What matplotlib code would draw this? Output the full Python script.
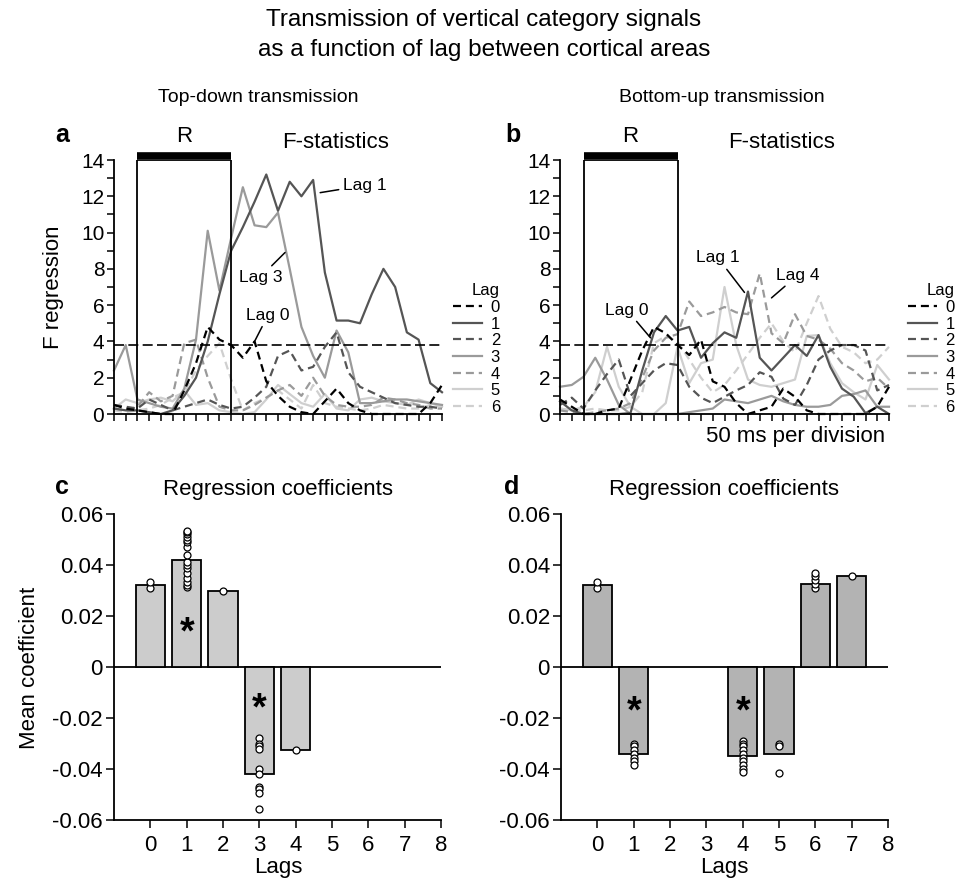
import numpy as np
import matplotlib
matplotlib.use('Agg')
import matplotlib.pyplot as plt

plt.rcParams['font.family'] = ['Liberation Sans', 'DejaVu Sans']

# ---- F-statistics time courses (one value per 50 ms division) ----
divisions = np.arange(29)
lag_labels = ['0', '1', '2', '3', '4', '5', '6']

td_lag0 = [0.5, 0.3, 0.2, 0.1, 0.0, 0.0, 1.3, 2.8, 4.8, 4.1, 3.8, 3.1, 4.0, 1.8, 1.0, 0.4, 0.1, 0.0, 0.7, 1.4, 0.6, 0.2, 0.0, 0.0, 0.0, 0.0, 0.0, 0.6, 1.6]
td_lag1 = [0.3, 0.2, 0.2, 0.1, 0.0, 0.2, 1.0, 2.0, 4.0, 6.6, 9.0, 10.3, 11.7, 13.2, 11.2, 12.8, 12.0, 12.9, 7.8, 5.15, 5.15, 5.0, 6.6, 8.0, 7.0, 4.5, 4.1, 1.7, 1.2]
td_lag2 = [0.5, 0.4, 0.3, 0.8, 0.5, 0.2, 0.4, 0.6, 0.8, 0.5, 0.3, 0.4, 0.9, 1.5, 3.2, 3.5, 2.4, 2.6, 3.7, 4.5, 2.3, 1.5, 1.2, 0.9, 0.6, 0.5, 0.4, 0.4, 0.3]
td_lag3 = [2.4, 3.8, 0.8, 0.6, 0.4, 0.3, 1.4, 4.1, 10.1, 6.8, 9.7, 12.5, 10.4, 10.3, 11.1, 8.0, 4.8, 3.2, 2.0, 4.6, 3.4, 0.6, 0.6, 0.7, 0.8, 0.8, 0.7, 0.6, 0.5]
td_lag4 = [0.3, 0.2, 0.4, 1.2, 0.7, 1.0, 3.9, 4.1, 2.0, 0.4, 0.2, 0.2, 0.5, 0.9, 1.3, 1.6, 1.0, 2.0, 1.0, 0.5, 0.4, 0.4, 0.5, 0.9, 0.8, 0.6, 0.5, 0.3, 0.3]
td_lag5 = [0.3, 0.8, 0.6, 0.8, 0.9, 0.7, 1.3, 0.5, 0.6, 0.2, 0.1, 0.0, 0.1, 0.8, 1.6, 1.1, 0.6, 0.4, 1.1, 0.3, 0.2, 0.8, 0.9, 0.7, 0.6, 0.5, 0.8, 0.6, 0.4]
td_lag6 = [0.2, 0.1, 0.2, 0.3, 0.5, 0.9, 1.2, 2.4, 3.2, 3.9, 1.9, 0.2, 0.6, 0.9, 1.3, 0.8, 0.3, 1.6, 0.6, 0.4, 0.3, 0.2, 0.3, 0.5, 0.4, 0.3, 0.3, 0.5, 0.4]

bu_lag0 = [0.8, 0.4, 0.0, 0.0, 0.2, 0.3, 1.9, 3.5, 4.8, 4.45, 3.8, 3.25, 4.1, 1.8, 1.5, 0.6, 0.0, 0.2, 0.4, 1.4, 0.95, 0.2, 0.0, 0.0, 0.0, 0.0, 0.0, 0.4, 1.5]
bu_lag1 = [0.7, 0.2, 0.0, 0.0, 0.0, 0.0, 0.05, 2.4, 4.5, 5.4, 4.6, 4.8, 3.1, 3.9, 4.5, 4.2, 6.75, 3.1, 2.4, 3.1, 3.8, 3.2, 4.35, 2.6, 1.4, 0.95, 0.05, 0.4, 0.0]
bu_lag2 = [0.5, 0.9, 0.3, 1.3, 2.2, 3.0, 1.0, 1.7, 2.4, 2.8, 2.7, 1.5, 0.9, 0.6, 0.95, 1.3, 1.6, 2.3, 2.05, 0.85, 0.5, 1.6, 3.0, 3.5, 3.8, 3.8, 3.5, 1.3, 1.6]
bu_lag3 = [1.5, 1.6, 2.05, 3.1, 1.9, 0.5, 0.0, 0.0, 0.0, 0.0, 0.0, 0.1, 0.2, 0.3, 0.8, 0.7, 0.6, 0.8, 1.0, 0.7, 0.5, 0.4, 0.4, 0.5, 1.0, 1.1, 1.3, 0.4, 0.4]
bu_lag4 = [0.2, 0.1, 0.0, 0.1, 0.2, 0.3, 0.6, 2.0, 3.5, 4.2, 4.4, 6.2, 5.4, 5.6, 5.9, 5.6, 5.5, 7.75, 4.45, 3.9, 5.5, 4.3, 4.1, 3.6, 2.8, 2.4, 1.8, 2.0, 1.4]
bu_lag5 = [0.3, 0.2, 0.4, 1.2, 3.7, 1.5, 0.4, 0.0, 0.0, 0.6, 3.7, 1.7, 2.8, 3.0, 7.0, 3.8, 1.9, 1.6, 1.5, 1.7, 1.9, 4.3, 4.35, 2.8, 1.7, 1.2, 0.8, 2.7, 1.9]
bu_lag6 = [0.3, 0.2, 0.2, 0.3, 0.2, 0.2, 0.4, 1.2, 3.9, 4.3, 4.0, 3.0, 2.0, 1.2, 1.6, 2.4, 3.3, 4.2, 5.0, 4.0, 3.4, 5.0, 6.5, 4.7, 3.7, 3.4, 2.8, 3.0, 3.7]

f_threshold = 3.8
r_window = [2, 10]

# ---- regression coefficients ----
bar_lags = np.arange(9)
td_lags = [0, 1, 2, 3, 4]
td_coef = [0.032, 0.042, 0.030, -0.042, -0.0325]
td_points = [
    [0.031, 0.0335],
    [0.0315, 0.032, 0.0335, 0.035, 0.037, 0.039, 0.040, 0.041, 0.044, 0.047, 0.049, 0.050, 0.051, 0.052, 0.053, 0.0535],
    [0.030],
    [-0.028, -0.030, -0.031, -0.032, -0.040, -0.042, -0.047, -0.048, -0.0495, -0.0555],
    [-0.0325],
]
td_signif = [1, 3]
td_star_y = [0.0133, -0.0167]

bu_lags = [0, 1, 4, 5, 6, 7]
bu_coef = [0.032, -0.034, -0.035, -0.034, 0.0325, 0.0355]
bu_points = [
    [0.031, 0.0335],
    [-0.030, -0.031, -0.0325, -0.034, -0.0355, -0.037, -0.0385],
    [-0.029, -0.030, -0.031, -0.0325, -0.034, -0.0355, -0.037, -0.0385, -0.040, -0.041],
    [-0.030, -0.031, -0.0415],
    [0.031, 0.0325, 0.034, 0.0355, 0.037],
    [0.0355],
]
bu_signif = [1, 4]
bu_star_y = [-0.0177, -0.0177]

coef_ticks = [-0.06, -0.04, -0.02, 0, 0.02, 0.04, 0.06]
coef_ticklabels = ['-0.06', '-0.04', '-0.02', '0', '0.02', '0.04', '0.06']

W, H = 968, 882
fig = plt.figure(figsize=(W / 100, H / 100), dpi=100)


def px(x, y):
    return x / W, 1 - y / H


def axes_px(left, top, right, bottom):
    return fig.add_axes([left / W, 1 - bottom / H, (right - left) / W, (bottom - top) / H])


# colour and dash of each lag
lag_colors = ['black', '#555555', '#555555', '#9a9a9a', '#9a9a9a', '#cfcfcf', '#cfcfcf']
lag_dashed = [True, False, True, False, True, False, True]


def draw_fstats(ax, series, legend_x, notes):
    handles = []
    # lightest first so the dark ones stay on top
    for k in range(6, -1, -1):
        ln, = ax.plot(divisions, series[k], color=lag_colors[k], lw=1.6, clip_on=False)
        if lag_dashed[k]:
            ln.set_dashes((3.6, 2.2))
        handles.insert(0, ln)
    ax.axhline(f_threshold, color='black', lw=1.2, dashes=(6, 2.6))
    ax.plot([r_window[0], r_window[0], r_window[1], r_window[1]], [0, 14, 14, 0],
            color='black', lw=1.3, solid_joinstyle='miter')
    ax.plot(r_window, [14.2, 14.2], color='black', lw=5.5, solid_capstyle='butt', clip_on=False)
    ax.set_xlim(0, 28)
    ax.set_ylim(0, 14)
    ax.set_xticks(divisions)
    ax.set_xticklabels([])
    ax.set_yticks(np.arange(15))
    ax.set_yticklabels([str(v) if v % 2 == 0 else '' for v in range(15)], fontsize=15)
    ax.tick_params(axis='both', length=5, width=1.1, pad=2)
    for s in ['top', 'right']:
        ax.spines[s].set_visible(False)
    for s in ['left', 'bottom']:
        ax.spines[s].set_linewidth(1.3)
    for txt, xy, xytext in notes:
        ax.annotate(txt, xy=xy, xytext=xytext, fontsize=12.5, ha='center', va='center',
                    arrowprops=dict(arrowstyle='-', lw=1.1, color='black', shrinkA=1, shrinkB=0))
    ax.legend(handles, lag_labels, title='Lag', loc='upper left', bbox_to_anchor=(legend_x, 0.515),
              frameon=False, fontsize=12, title_fontsize=12, handlelength=1.75, handletextpad=0.5,
              labelspacing=0.1, borderpad=0, borderaxespad=0, alignment='right')


def draw_coefs(ax, lags, coef, points, signif, star_y, color):
    ax.bar(lags, coef, width=0.8, color=color, edgecolor='black', linewidth=1.3, zorder=2)
    for lag, pts in zip(lags, points):
        ax.plot([lag] * len(pts), pts, 'o', ms=5, mfc='white', mec='black', mew=0.9, zorder=3, clip_on=False)
    for lag, y in zip(signif, star_y):
        ax.text(lag, y, '*', fontsize=27, fontweight='bold', ha='center', va='center', zorder=4)
    ax.axhline(0, color='black', lw=1.3, zorder=1)
    ax.set_xlim(-1, 8)
    ax.set_ylim(-0.06, 0.06)
    ax.set_xticks(bar_lags)
    ax.set_xticklabels([str(v) for v in bar_lags], fontsize=16)
    ax.set_yticks(coef_ticks)
    ax.set_yticklabels(coef_ticklabels, fontsize=16)
    ax.tick_params(axis='both', length=6, width=1.1, pad=2)
    ax.tick_params(axis='x', pad=5)
    for s in ['top', 'right']:
        ax.spines[s].set_visible(False)
    for s in ['left', 'bottom']:
        ax.spines[s].set_linewidth(1.3)


ax_a = axes_px(114, 160, 442, 414)
ax_b = axes_px(560, 160, 889, 414)
ax_c = axes_px(114, 514, 441, 820)
ax_d = axes_px(561, 514, 888, 820)

draw_fstats(ax_a, [td_lag0, td_lag1, td_lag2, td_lag3, td_lag4, td_lag5, td_lag6], 1.034,
            [('Lag 1', (17.6, 12.2), (21.4, 12.6)),
             ('Lag 3', (14.6, 8.9), (12.5, 7.55)),
             ('Lag 0', (12.0, 4.0), (13.15, 5.45))])
draw_fstats(ax_b, [bu_lag0, bu_lag1, bu_lag2, bu_lag3, bu_lag4, bu_lag5, bu_lag6], 1.058,
            [('Lag 0', (7.7, 4.2), (5.7, 5.73)),
             ('Lag 1', (15.7, 6.7), (13.45, 8.6)),
             ('Lag 4', (18.0, 6.4), (20.25, 7.66))])

draw_coefs(ax_c, td_lags, td_coef, td_points, td_signif, td_star_y, '#cccccc')
draw_coefs(ax_d, bu_lags, bu_coef, bu_points, bu_signif, bu_star_y, '#b3b3b3')

# axis labels
fig.text(*px(54, 287), 'F regression', rotation=90, ha='center', va='center', fontsize=16)
fig.text(*px(30, 668), 'Mean coefficient', rotation=90, ha='center', va='center', fontsize=16)
fig.text(*px(278, 857), 'Lags', ha='center', va='top', fontsize=16)
fig.text(*px(724, 857), 'Lags', ha='center', va='top', fontsize=16)

# titles and panel text
fig.text(*px(484, 20), 'Transmission of vertical category signals', ha='center', va='center', fontsize=17.5)
fig.text(*px(484, 50), 'as a function of lag between cortical areas', ha='center', va='center', fontsize=17.5)
fig.text(*px(258, 98), 'Top-down transmission', ha='center', va='center', fontsize=14)
fig.text(*px(722, 98), 'Bottom-up transmission', ha='center', va='center', fontsize=14)
for lab, x, y in [('a', 62, 135), ('b', 513, 135), ('c', 62, 487), ('d', 512, 487)]:
    fig.text(*px(x, y), lab, ha='center', va='center', fontsize=18, fontweight='bold')
for x0 in [0, 446]:
    fig.text(*px(184 + x0, 137), 'R', ha='center', va='center', fontsize=16)
    fig.text(*px(336 + x0, 142), 'F-statistics', ha='center', va='center', fontsize=16)
fig.text(*px(796, 437), '50 ms per division', ha='center', va='center', fontsize=16)
fig.text(*px(278, 490), 'Regression coefficients', ha='center', va='center', fontsize=16)
fig.text(*px(724, 490), 'Regression coefficients', ha='center', va='center', fontsize=16)

fig.savefig('out.png', dpi=100)
